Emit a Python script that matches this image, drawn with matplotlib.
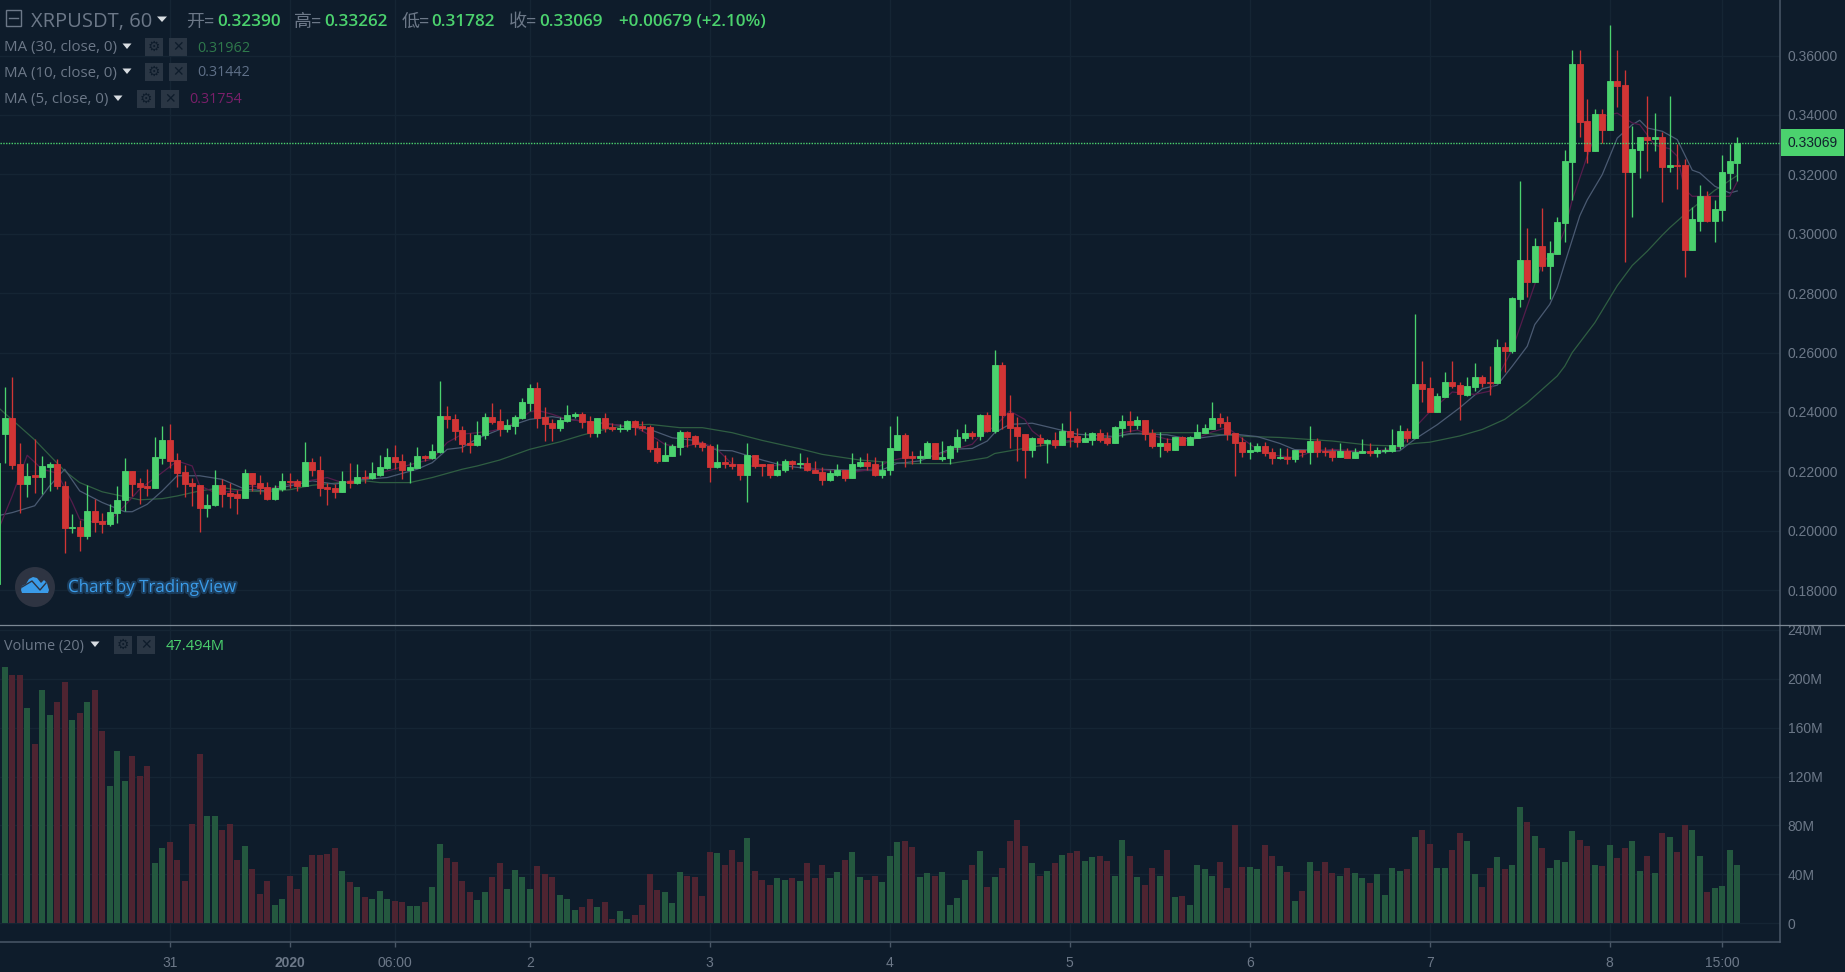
import matplotlib
matplotlib.use("Agg")
import matplotlib.pyplot as plt
import matplotlib.patheffects as pe
from matplotlib.patches import Circle, Polygon, Rectangle
import numpy as np

# hourly candles (index 0 is the sliver at the left edge)
opens = [
    .1821,.2325,.2378,.2223,.2157,.2187,.2181,.2216,.2223,.2151,
    .2010,.2012,.1983,.2067,.2033,.2022,.2060,.2102,.2201,.2160,
    .2151,.2144,.2245,.2307,.2239,.2197,.2160,.2155,.2077,.2085,
    .2155,.2126,.2123,.2111,.2194,.2160,.2147,.2106,.2139,.2169,
    .2168,.2152,.2232,.2206,.2148,.2143,.2131,.2169,.2159,.2181,
    .2178,.2189,.2211,.2247,.2235,.2204,.2211,.2252,.2244,.2265,
    .2387,.2377,.2340,.2294,.2287,.2321,.2383,.2369,.2341,.2354,
    .2378,.2430,.2479,.2383,.2362,.2345,.2371,.2387,.2392,.2369,
    .2328,.2378,.2349,.2341,.2341,.2369,.2353,.2348,.2278,.2235,
    .2252,.2282,.2332,.2319,.2294,.2285,.2215,.2231,.2226,.2223,
    .2189,.2256,.2223,.2223,.2189,.2203,.2235,.2223,.2227,.2206,
    .2197,.2172,.2189,.2206,.2177,.2218,.2231,.2223,.2189,.2203,
    .2273,.2323,.2250,.2244,.2244,.2294,.2241,.2244,.2282,.2311,
    .2328,.2320,.2391,.2336,.2559,.2395,.2348,.2324,.2273,.2311,
    .2294,.2307,.2290,.2336,.2319,.2299,.2307,.2328,.2311,.2294,
    .2345,.2370,.2357,.2374,.2328,.2286,.2294,.2273,.2316,.2290,
    .2311,.2328,.2341,.2379,.2365,.2328,.2299,.2265,.2270,.2286,
    .2265,.2244,.2249,.2240,.2273,.2265,.2302,.2270,.2269,.2249,
    .2269,.2244,.2261,.2269,.2261,.2269,.2270,.2286,.2336,.2311,
    .2493,.2479,.2400,.2450,.2500,.2491,.2458,.2484,.2517,.2500,
    .2496,.2618,.2605,.2779,.2913,.2837,.2958,.2891,.2930,.3037,
    .3242,.3572,.3378,.3280,.3404,.3350,.3514,.3500,.3208,.3283,
    .3324,.3318,.3324,.3224,.3231,.3231,.2944,.3043,.3126,.3043,
    .3081,.3203,.32390,
]
closes = [
    .2229,.2378,.2220,.2157,.2185,.2180,.2218,.2223,.2149,.2010,
    .2013,.1983,.2067,.2030,.2021,.2063,.2105,.2201,.2157,.2147,
    .2143,.2247,.2307,.2236,.2194,.2157,.2152,.2076,.2088,.2155,
    .2123,.2117,.2111,.2194,.2157,.2143,.2106,.2143,.2168,.2163,
    .2152,.2232,.2203,.2144,.2141,.2131,.2168,.2161,.2180,.2177,
    .2194,.2215,.2247,.2232,.2203,.2215,.2252,.2244,.2269,.2387,
    .2375,.2337,.2291,.2287,.2323,.2383,.2366,.2341,.2357,.2383,
    .2433,.2479,.2378,.2358,.2345,.2374,.2391,.2392,.2366,.2328,
    .2378,.2345,.2341,.2345,.2369,.2349,.2345,.2274,.2235,.2256,
    .2285,.2331,.2316,.2291,.2282,.2215,.2231,.2223,.2219,.2189,
    .2256,.2219,.2219,.2189,.2206,.2235,.2223,.2227,.2203,.2194,
    .2172,.2194,.2206,.2177,.2223,.2231,.2218,.2189,.2206,.2278,
    .2323,.2244,.2244,.2250,.2294,.2241,.2249,.2286,.2316,.2328,
    .2320,.2391,.2336,.2559,.2391,.2345,.2319,.2273,.2311,.2294,
    .2307,.2290,.2336,.2316,.2299,.2311,.2328,.2307,.2294,.2348,
    .2370,.2357,.2374,.2324,.2286,.2294,.2273,.2316,.2290,.2316,
    .2331,.2345,.2379,.2362,.2324,.2294,.2265,.2273,.2286,.2261,
    .2244,.2249,.2241,.2273,.2265,.2302,.2265,.2265,.2249,.2269,
    .2244,.2265,.2269,.2261,.2273,.2273,.2290,.2336,.2311,.2493,
    .2476,.2400,.2454,.2500,.2488,.2459,.2488,.2517,.2496,.2496,
    .2618,.2606,.2782,.2913,.2837,.2958,.2891,.2934,.3039,.3244,
    .3572,.3375,.3280,.3404,.3350,.3514,.3496,.3208,.3286,.3324,
    .3317,.3324,.3224,.3231,.3227,.2944,.3048,.3126,.3043,.3084,
    .3207,.3245,.33069,
]
highs = [
    .2229,.2485,.2518,.2294,.2227,.2308,.2252,.2232,.2241,.2168,
    .2055,.2036,.2155,.2108,.2059,.2089,.2152,.2244,.2201,.2177,
    .2207,.2316,.2354,.2360,.2261,.2220,.2179,.2155,.2123,.2203,
    .2173,.2159,.2138,.2207,.2194,.2189,.2164,.2155,.2194,.2194,
    .2175,.2299,.2245,.2253,.2162,.2157,.2201,.2227,.2223,.2203,
    .2232,.2254,.2278,.2288,.2257,.2233,.2282,.2254,.2291,.2505,
    .2420,.2394,.2353,.2330,.2371,.2395,.2429,.2409,.2375,.2388,
    .2446,.2493,.2500,.2418,.2377,.2384,.2424,.2401,.2400,.2386,
    .2378,.2395,.2362,.2360,.2372,.2372,.2369,.2355,.2302,.2299,
    .2292,.2340,.2337,.2323,.2303,.2292,.2291,.2256,.2247,.2223,
    .2294,.2256,.2223,.2223,.2236,.2243,.2239,.2261,.2248,.2236,
    .2214,.2203,.2223,.2206,.2261,.2248,.2261,.2248,.2235,.2354,
    .2387,.2328,.2269,.2271,.2303,.2294,.2303,.2288,.2342,.2358,
    .2336,.2394,.2400,.2610,.2568,.2456,.2383,.2324,.2316,.2324,
    .2308,.2333,.2362,.2404,.2345,.2333,.2333,.2342,.2333,.2353,
    .2391,.2404,.2387,.2374,.2342,.2331,.2312,.2316,.2319,.2319,
    .2358,.2358,.2433,.2395,.2387,.2328,.2316,.2299,.2294,.2299,
    .2278,.2278,.2278,.2273,.2273,.2354,.2311,.2282,.2278,.2294,
    .2278,.2278,.2308,.2294,.2282,.2282,.2342,.2355,.2345,.2731,
    .2572,.2518,.2462,.2534,.2572,.2500,.2518,.2563,.2525,.2555,
    .2646,.2635,.2786,.3177,.3018,.2984,.3085,.2977,.3057,.3283,
    .3619,.3619,.3454,.3421,.3421,.3703,.3619,.3552,.3361,.3324,
    .3464,.3408,.3341,.3464,.3303,.3252,.3089,.3165,.3143,.3115,
    .3266,.3303,.33262,
]
lows = [
    .1821,.2227,.2207,.2061,.2114,.2126,.2123,.2134,.2140,.1925,
    .1992,.1933,.1972,.1996,.1992,.2017,.2026,.2067,.2117,.2089,
    .2117,.2144,.2224,.2211,.2148,.2112,.2084,.1996,.2047,.2084,
    .2080,.2076,.2055,.2111,.2134,.2123,.2104,.2104,.2133,.2144,
    .2135,.2152,.2185,.2117,.2088,.2111,.2131,.2144,.2157,.2162,
    .2173,.2185,.2209,.2209,.2173,.2162,.2210,.2234,.2241,.2261,
    .2347,.2306,.2265,.2262,.2285,.2308,.2358,.2319,.2332,.2325,
    .2375,.2403,.2345,.2302,.2302,.2336,.2366,.2378,.2345,.2315,
    .2315,.2332,.2335,.2332,.2337,.2323,.2335,.2264,.2227,.2235,
    .2252,.2256,.2283,.2282,.2269,.2164,.2210,.2210,.2207,.2172,
    .2097,.2210,.2185,.2177,.2185,.2199,.2207,.2210,.2200,.2194,
    .2155,.2168,.2185,.2168,.2177,.2216,.2206,.2185,.2177,.2189,
    .2273,.2214,.2223,.2227,.2244,.2240,.2234,.2223,.2265,.2303,
    .2308,.2306,.2332,.2328,.2342,.2280,.2235,.2177,.2249,.2286,
    .2227,.2278,.2290,.2282,.2282,.2299,.2290,.2299,.2290,.2294,
    .2316,.2333,.2342,.2307,.2278,.2249,.2265,.2273,.2290,.2290,
    .2311,.2328,.2341,.2349,.2307,.2185,.2249,.2240,.2265,.2252,
    .2223,.2240,.2223,.2232,.2249,.2223,.2249,.2252,.2236,.2249,
    .2244,.2244,.2261,.2252,.2249,.2261,.2265,.2274,.2297,.2311,
    .2433,.2400,.2400,.2450,.2479,.2374,.2453,.2470,.2484,.2458,
    .2496,.2534,.2597,.2753,.2787,.2837,.2874,.2779,.2930,.2973,
    .3115,.3326,.3238,.3280,.3305,.3350,.3425,.2904,.3057,.3188,
    .3210,.3277,.3107,.3207,.3149,.2855,.2944,.3009,.3039,.2972,
    .3043,.3149,.31782,
]
# volume in millions
volumes = [
    228,209.7,203.4,203.4,175.8,146.9,191.1,170.6,180.7,197.1,
    166.5,171.7,180.7,191.1,157.5,112.5,141.1,116.3,137,120.7,
    128.9,48.9,61.2,66.3,51.9,34.7,81.4,138.7,87.6,87.6,
    76.4,81.4,51.9,63.3,44.8,24,34.7,15,19.9,38.8,
    28.1,45.9,56,56,56.8,61.2,42.9,33.6,29.5,21.3,
    19.9,26.5,19.9,18.3,17.2,14.2,14.2,17.2,29.5,65.2,
    53,50,34.7,25.4,19.1,25.4,37.7,48.9,28.4,43.7,
    37.7,28.4,47,40.7,37.7,23.2,19.9,10.9,13.1,19.9,
    13.1,17.2,3.5,10.1,3.8,7.1,15.3,39.9,27.6,25.7,
    16.4,42,39,37.9,22.7,58.4,57.3,48,60.3,50.2,
    69.6,43.1,35.8,31.7,36.9,35.8,36.9,34.9,49.1,36.9,
    48,36.9,42,52.1,58.4,37.9,35.8,39,33.9,55.4,
    66.6,67.7,62.5,37.9,41,39,42,15.3,20.5,35.8,
    48,59.5,29.8,37.9,45,67.7,84.1,63.6,49.1,39,
    43.1,49.1,56.2,57.3,59.5,51.3,54.3,55.4,51.3,39,
    68.5,55.4,37.9,31.7,45,39,60.3,21.6,22.7,15.3,
    48,44,39,50.2,28.7,80,45.9,45.9,44,64.4,
    55.4,47,41.8,18.3,26.8,50.2,43.1,50.2,41,39,
    45,41,36.9,32.8,39.9,23.5,45,43.1,44,70.7,
    76.7,65.2,45,45,60.3,73.7,67.7,39.9,29.8,45,
    54.3,44,48,95.3,83,71.8,61.2,45,52.1,50.2,
    75.9,68.5,63.6,48,47.2,64.4,53.2,61.2,67.7,43.1,
    55.4,41,73.7,70.7,58.4,80,76.7,55.4,25.7,28.7,
    30.8,60.3,47.494,
]

# moving averages, sampled by eye at these candle indices
ma30_idx = [0,5,9,11,14,16,19,22,24,27,30,33,36,39,42,45,49,51,55,58,62,64,67,71,75,78,81,84,87,91,94,98,102,107,110,115,121,
            127,132,133,138,142,147,152,156,160,163,167,171,178,183,187,189,191,195,198,201,204,206,208,209,210,213,216,218,220,222,223,225,229,232]
ma30 = [.2418,.2306,.2201,.2162,.2131,.2120,.2104,.2108,.2117,.2134,.2145,.2134,.2131,.2138,.2153,.2160,.2168,.2162,.2162,.2179,.2207,.2218,.2238,.2274,.2299,.2322,.2341,.2355,.2358,.2347,.2347,.2330,.2304,.2276,.2257,.2238,.2226,
        .2226,.2246,.2260,.2282,.2297,.2310,.2328,.2330,.2330,.2324,.2317,.2314,.2302,.2288,.2285,.2294,.2298,.2319,.2341,.2375,.2431,.2476,.2521,.2554,.2600,.2700,.2825,.2893,.2941,.2995,.3020,.3065,.3146,.3196]
ma10_idx = [0,2,5,7,9,11,14,17,18,20,22,24,27,30,33,36,39,42,45,49,52,56,58,60,62,64,67,71,74,78,82,87,90,93,96,98,102,105,109,114,118,120,121,
            123,127,130,132,133,135,138,141,144,149,151,156,159,163,165,168,171,173,179,183,187,189,192,195,198,200,202,204,205,207,208,209,211,212,214,216,218,219,220,222,224,226,227,229,231,232]
ma10 = [.2050,.2061,.2084,.2151,.2207,.2134,.2095,.2064,.2064,.2089,.2134,.2185,.2185,.2173,.2140,.2134,.2151,.2168,.2157,.2173,.2179,.2207,.2229,.2274,.2280,.2310,.2341,.2375,.2384,.2369,.2358,.2341,.2313,.2304,.2271,.2269,.2238,.2218,.2207,.2204,.2205,.2227,.2229,
        .2235,.2274,.2277,.2302,.2330,.2358,.2362,.2344,.2325,.2317,.2327,.2323,.2308,.2321,.2325,.2317,.2294,.2273,.2269,.2263,.2269,.2308,.2357,.2414,.2478,.2490,.2554,.2621,.2694,.2762,.2818,.2900,.3060,.3114,.3199,.3322,.3367,.3382,.3356,.3345,.3317,.3214,.3205,.3160,.3137,.3144]
ma5_idx = [0,2,4,6,8,10,11,13,15,17,19,22,24,26,27,29,32,34,36,38,40,44,46,49,52,56,58,60,62,64,66,68,70,71,72,74,76,78,82,85,88,89,91,94,96,98,100,103,107,109,114,117,119,121,
           123,125,127,130,131,133,135,137,138,140,142,146,148,150,152,154,156,159,162,164,166,168,170,173,175,178,183,187,189,191,194,197,199,200,202,204,206,208,209,210,212,214,216,218,219,221,223,224,225,226,229,231,232]
ma5 = [.1994,.2117,.2254,.2207,.2194,.2095,.2039,.2028,.2033,.2084,.2140,.2196,.2235,.2218,.2151,.2129,.2134,.2151,.2140,.2151,.2162,.2179,.2162,.2179,.2201,.2229,.2241,.2297,.2325,.2330,.2336,.2350,.2381,.2400,.2406,.2392,.2375,.2369,.2358,.2350,.2308,.2291,.2280,.2297,.2274,.2224,.2218,.2218,.2224,.2207,.2196,.2209,.2235,.2246,
       .2250,.2252,.2269,.2291,.2319,.2351,.2403,.2375,.2336,.2297,.2302,.2308,.2308,.2330,.2339,.2321,.2308,.2302,.2333,.2347,.2310,.2274,.2255,.2246,.2263,.2274,.2265,.2280,.2347,.2400,.2467,.2459,.2470,.2515,.2610,.2756,.2902,.2950,.3013,.3114,.3261,.3395,.3406,.3373,.3367,.3298,.3286,.3261,.3149,.3126,.3126,.3126,.3175]

price_ticks = [0.18, 0.20, 0.22, 0.24, 0.26, 0.28, 0.30, 0.32, 0.34, 0.36]
vol_ticks = [0, 40, 80, 120, 160, 200, 240]
vol_labels = ['0', '40M', '80M', '120M', '160M', '200M', '240M']
time_ticks = [23, 39, 53, 71, 95, 119, 143, 167, 191, 215, 230]
time_labels = ['31', '2020', '06:00', '2', '3', '4', '5', '6', '7', '8', '15:00']

BG = '#0e1c2b'
GRID = '#152534'
AXIS = '#4a5868'
TXT = '#6c7888'
UP = '#4bd26e'
DOWN = '#d13535'
UP_VOL = '#24583f'
DOWN_VOL = '#4e2431'
SANS = 'Liberation Sans'
UI = ['Open Sans', 'Noto Sans CJK SC', 'DejaVu Sans']

W, H = 1845, 972
AX_R = 1780 / W
SEP = 624.5
BOTTOM = 941.7

opens, closes, highs, lows = map(np.array, (opens, closes, highs, lows))
volumes = np.array(volumes)
x = np.arange(len(opens))
rising = closes >= opens
cols = np.where(rising, UP, DOWN)
vol_cols = np.where(rising, UP_VOL, DOWN_VOL)

fig = plt.figure(figsize=(W / 100, H / 100), dpi=100, facecolor=BG)
ax = fig.add_axes([0, 1 - SEP / H, AX_R, SEP / H], facecolor=BG)
vax = fig.add_axes([0, 1 - BOTTOM / H, AX_R, (BOTTOM - SEP) / H], facecolor=BG, sharex=ax)

# price pane
ax.set_xlim(0.3733, 237.7)
ax.set_ylim(0.16842, 0.37869)
ax.set_axisbelow(True)
ax.grid(True, color=GRID, lw=1)
# the averages run behind the candles
ax.plot(ma30_idx, ma30, color='#2f5e42', lw=0.9, zorder=2)
ax.plot(ma10_idx, ma10, color='#4a5a72', lw=0.9, zorder=2)
ax.plot(ma5_idx, ma5, color='#551d4c', lw=0.9, zorder=2)
ax.vlines(x, lows, highs, color=cols, lw=0.95, zorder=3)
ax.bar(x, np.abs(closes - opens), bottom=np.minimum(opens, closes), width=0.8,
       color=cols, edgecolor=cols, lw=0.6, zorder=4)
ax.axhline(closes[-1], color=UP, lw=1.0, ls=(0, (1.0, 1.0)), zorder=6)

ax.yaxis.tick_right()
ax.set_yticks(price_ticks)
ax.set_yticklabels(['%.5f' % p for p in price_ticks], family=SANS, fontsize=10, color=TXT)
ax.tick_params(axis='y', length=0, pad=5.5)
ax.tick_params(axis='x', length=0, labelbottom=False)
for s in ('top', 'left', 'bottom'):
    ax.spines[s].set_visible(False)
ax.spines['right'].set_color(AXIS)
ax.spines['right'].set_linewidth(1.1)
# label of the next grid line, only its lower edge is in frame
ax.annotate('0.38000', (1, 0.38), xycoords=('axes fraction', 'data'), xytext=(5.5, 0),
            textcoords='offset points', va='center', family=SANS, fontsize=10, color=TXT,
            annotation_clip=False)
ax.annotate('%.5f' % closes[-1], (1, closes[-1]),
            xycoords=('axes fraction', 'data'), xytext=(5.5, 0), textcoords='offset points',
            va='center', family=SANS, fontsize=10, color='#10202c', zorder=10, annotation_clip=False,
            bbox=dict(boxstyle='square,pad=0.45', fc=UP, ec=UP, lw=0))

# volume pane
vax.set_ylim(-15.1, 244.5)
vax.set_axisbelow(True)
vax.grid(True, color=GRID, lw=1)
vax.bar(x, volumes, width=0.84, color=vol_cols, zorder=3)
vax.yaxis.tick_right()
vax.set_yticks(vol_ticks)
vax.set_yticklabels(vol_labels, family=SANS, fontsize=10, color=TXT)
vax.tick_params(axis='y', length=0, pad=5.5)
vax.set_xticks(time_ticks)
vax.set_xticklabels(time_labels, family=SANS, fontsize=10, color=TXT)
vax.get_xticklabels()[1].set_fontweight('bold')
vax.tick_params(axis='x', length=3.6, width=1, color=AXIS, pad=6.5)
for s in ('left', 'top'):
    vax.spines[s].set_visible(False)
for s in ('right', 'bottom'):
    vax.spines[s].set_color(AXIS)
    vax.spines[s].set_linewidth(1.1)
ax.set_xticks(time_ticks)

# legend text and buttons, drawn in pixel coordinates of the figure
ov = fig.add_axes([0, 0, 1, 1], zorder=20)
ov.set_xlim(0, W)
ov.set_ylim(H, 0)
ov.axis('off')
ov.patch.set_alpha(0)

# the pane separator runs through the price scale too
ov.plot([0, W], [SEP, SEP], color='#7c8894', lw=0.9)


def label(px, py, s, color=TXT, size=10.8, **kw):
    return ov.text(px, py, s, color=color, fontsize=size, family=UI, va='center', ha='left', **kw)


def arrow(px, py, size=5):
    ov.add_patch(Polygon([[px - size, py - 2.5], [px + size, py - 2.5], [px, py + 3]], fc='#d8dde2', ec='none'))


def buttons(px1, px2, py):
    for px, s in ((px1, '\u2699'), (px2, '\u2715')):
        ov.add_patch(Rectangle((px, py - 9), 18, 18, fc='#2a3644', ec='none'))
        ov.text(px + 9, py, s, color='#0e1c2b', fontsize=10, family='DejaVu Sans', ha='center', va='center')


# top line
ov.add_patch(Rectangle((6, 10), 15, 16, fc='none', ec=TXT, lw=1))
ov.plot([9, 18], [18, 18], color=TXT, lw=1)
label(31, 22, 'XRPUSDT, 60', size=14.5)
arrow(162, 19)
for lab_x, lab, val_x, val in ((186, '\u5f00=', 217, '0.32390'), (294, '\u9ad8=', 324.5, '0.33262'),
                               (401.5, '\u4f4e=', 431.6, '0.31782'), (509, '\u6536=', 539, '0.33069')):
    label(lab_x, 22, lab, size=13)
    label(val_x, 22, val, color=UP, size=12.3, fontweight='semibold')
label(619, 22, '+0.00679 (+2.10%)', color=UP, size=12.3, fontweight='semibold')

# indicator rows
label(4, 48, 'MA (30, close, 0)')
arrow(127, 46, 4.5)
buttons(145, 169, 47)
label(197, 48, '0.31962', color='#2f7a4c', size=10.4)
label(4, 73, 'MA (10, close, 0)')
arrow(127, 71, 4.5)
buttons(145, 169, 72)
label(197, 73, '0.31442', color='#5f7088', size=10.4)
label(4, 99.5, 'MA (5, close, 0)')
arrow(118, 98, 4.5)
buttons(137, 161, 99)
label(189, 99.5, '0.31754', color='#7a1f6a', size=10.4)
label(4, 646, 'Volume (20)', size=10.4)
arrow(95, 644, 4.5)
buttons(114, 137, 645)
label(166, 646, '47.494M', color=UP, size=10.5)

# TradingView badge
ov.add_patch(Circle((35, 587), 20, fc='#2e3442', ec='none'))
ov.add_patch(Polygon([[21, 590], [22, 586], [26, 584], [29, 579], [33, 577], [37, 578], [41, 583], [44, 580],
                      [47, 583], [48, 587], [49, 590], [48, 593], [22, 593]],
                     fc='#3a9be8', ec='none'))
ov.plot([22, 32, 40, 46], [587, 581, 590, 583], color='#2e3442', lw=1.0)
label(68, 588, 'Chart by TradingView', color='#3a9be8', size=12.2,
      path_effects=[pe.withStroke(linewidth=3, foreground='#1c3d5c')])

fig.savefig('out.png', dpi=100, facecolor=BG)
